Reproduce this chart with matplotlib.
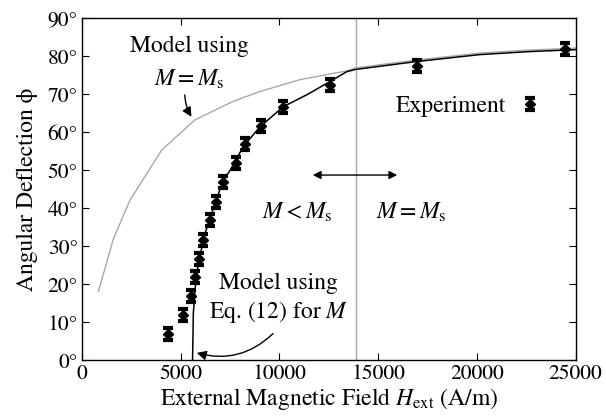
import matplotlib
matplotlib.use("Agg")
import matplotlib.pyplot as plt
from matplotlib.legend_handler import HandlerErrorbar
from matplotlib.container import ErrorbarContainer
import numpy as np

plt.rcParams['font.family'] = ['STIXGeneral', 'DejaVu Serif']
plt.rcParams['mathtext.fontset'] = 'stix'

# measured points (A/m, degrees)
exp_h = [4360, 5130, 5520, 5720, 5910, 6150, 6500, 6800, 7130, 7790,
         8280, 9070, 10170, 12560, 16990, 24480]
exp_phi = [7.0, 11.9, 16.9, 22.0, 26.8, 31.7, 36.9, 41.8, 47.0, 51.9,
           57.0, 61.8, 66.8, 72.6, 77.4, 82.0]
exp_err = 1.6

# model with M = Ms
sat_h = [830, 1165, 1590, 2430, 4040, 5720, 6230, 7660, 9020, 11040,
         13410, 13860, 17000, 20160, 22700, 25000]
sat_phi = [18.2, 24.2, 32.0, 42.2, 55.4, 63.3, 64.6, 68.2, 70.8, 73.9,
           76.2, 77.0, 79.1, 80.9, 81.7, 82.2]

# model with Eq. (12)
eq_h = [5600, 5610, 5640, 5720, 5890, 6230, 6740, 7160, 7500, 8170,
        9020, 10200, 11380, 12560, 13410, 13860, 16990, 20160, 22700, 25000]
eq_phi = [0.0, 3.0, 12.3, 18.5, 25.5, 33.4, 41.3, 47.5, 50.0, 56.3,
          61.5, 66.8, 69.9, 73.4, 76.0, 76.6, 78.7, 80.5, 81.3, 81.8]

h_sat = 13860

xticks = [0, 5000, 10000, 15000, 20000, 25000]
yticks = [0, 10, 20, 30, 40, 50, 60, 70, 80, 90]
ytick_labels = ['%d°' % v for v in yticks]

fig = plt.figure(figsize=(6.06, 4.2), dpi=100)
ax = fig.add_axes([0.1353, 0.1417, 0.8144, 0.8143])

grey = '#a8a8a8'
ax.axvline(h_sat, color=grey, lw=1.0, zorder=1)
ax.plot(sat_h, sat_phi, color=grey, lw=1.0, zorder=2)
ax.plot(eq_h, eq_phi, color='black', lw=1.1, zorder=3)
ax.errorbar(exp_h, exp_phi, yerr=exp_err, fmt='D', color='black', ms=5,
            capsize=3.5, capthick=3, elinewidth=2, zorder=4,
            label='Experiment')

ax.set_xlim(0, 25000)
ax.set_ylim(0, 90)
ax.set_xticks(xticks)
ax.set_yticks(yticks)
ax.set_yticklabels(ytick_labels)
ax.tick_params(direction='in', top=True, right=True, length=5,
               labelsize=15.5, pad=3)
for sp in ax.spines.values():
    sp.set_linewidth(1.0)

ax.set_xlabel(r'External Magnetic Field $H_\mathrm{ext}$ (A/m)',
              fontsize=17, labelpad=1)
ax.set_ylabel('Angular Deflection ϕ', fontsize=17, labelpad=7)

leg = ax.legend(loc='center', bbox_to_anchor=(0.784, 0.743), frameon=False,
                markerfirst=False, fontsize=17, handlelength=1.0,
                handletextpad=0.5,
                handler_map={ErrorbarContainer: HandlerErrorbar(yerr_size=0.25)})

fs = 17
ax.text(5420, 82.8, 'Model using', fontsize=fs, ha='center', va='center')
ax.text(5420, 73.9, r'$M = M_\mathrm{s}$', fontsize=fs, ha='center',
        va='center')
ax.annotate('', xy=(5620, 63.5), xytext=(5200, 70.6),
            arrowprops=dict(arrowstyle='-|>', color='black', lw=1.0,
                            connectionstyle='arc3,rad=0.15',
                            mutation_scale=14))

ax.text(9940, 20.2, 'Model using', fontsize=fs, ha='center', va='center')
ax.text(9940, 12.7, r'Eq. (12) for $M$', fontsize=fs, ha='center',
        va='center')
ax.annotate('', xy=(5680, 2.2), xytext=(9780, 7.6),
            arrowprops=dict(arrowstyle='-|>', color='black', lw=1.0,
                            connectionstyle='arc3,rad=-0.3',
                            mutation_scale=14))

ax.text(10880, 39.1, r'$M < M_\mathrm{s}$', fontsize=fs, ha='center',
        va='center')
ax.text(16700, 39.1, r'$M = M_\mathrm{s}$', fontsize=fs, ha='center',
        va='center')
ax.annotate('', xy=(11550, 48.8), xytext=(16110, 48.8),
            arrowprops=dict(arrowstyle='<|-|>', color='black', lw=1.0,
                            mutation_scale=12))

fig.savefig('out.png', dpi=100)
